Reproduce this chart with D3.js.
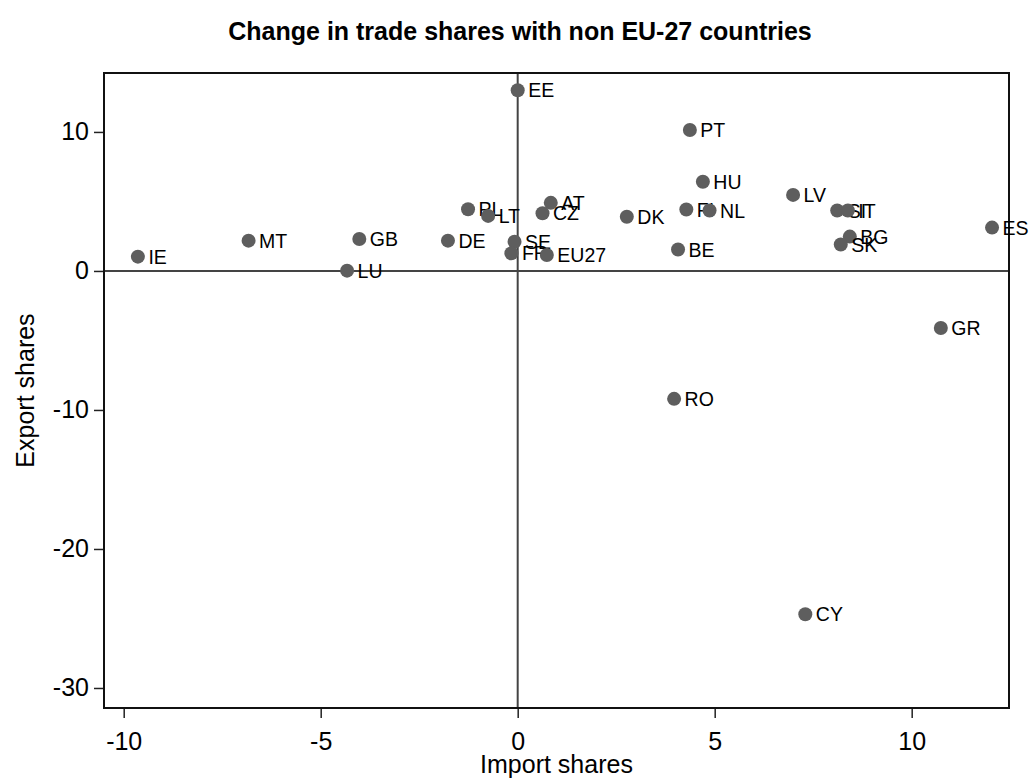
<!DOCTYPE html>
<html lang="en">
<head>
<meta charset="UTF-8">
<title>Change in trade shares</title>
<script src="https://d3js.org/d3.v7.min.js"></script>
<style>
  body { margin: 0; background: #fff; }
  text { font-family: "Liberation Sans", Arial, sans-serif; }
</style>
</head>
<body>
<svg width="1033" height="778"></svg>
<script>
// country codes and values
const countries = ["IE","MT","GB","LU","DE","PL","LT","SE","FR","EE","AT","CZ","EU27","DK",
                   "PT","HU","LV","FI","NL","BE","SI","IT","BG","SK","ES","GR","RO","CY"];
const importShares = [-9.64,-6.83,-4.02,-4.33,-1.77,-1.26,-0.75,-0.08,-0.16,0.0,0.84,0.63,0.74,2.77,
                      4.37,4.70,6.99,4.28,4.87,4.07,8.11,8.38,8.43,8.20,12.04,10.74,3.97,7.30];
const exportShares = [1.03,2.18,2.30,0.02,2.18,4.44,3.96,2.10,1.27,13.0,4.90,4.15,1.15,3.90,
                      10.14,6.42,5.47,4.42,4.35,1.54,4.35,4.35,2.47,1.90,3.12,-4.10,-9.20,-24.70];
const xTicks = [-10,-5,0,5,10];
const yTicks = [10,0,-10,-20,-30];

const svg = d3.select("svg");
const mLeft = 104, mRight = 1009, mTop = 73, mBottom = 708;

const x = d3.scaleLinear().domain([-10.5, 12.47]).range([mLeft, mRight]);
const y = d3.scaleLinear().domain([-31.44, 14.24]).range([mBottom, mTop]);

// title
svg.append("text")
    .attr("x", 520).attr("y", 40)
    .attr("text-anchor", "middle")
    .attr("font-size", "25px").attr("font-weight", "bold")
    .text("Change in trade shares with non EU-27 countries");

// zero reference lines
svg.append("line")
    .attr("x1", x(0)).attr("x2", x(0)).attr("y1", mTop).attr("y2", mBottom)
    .attr("stroke", "#444").attr("stroke-width", 2);
svg.append("line")
    .attr("x1", mLeft).attr("x2", mRight).attr("y1", y(0)).attr("y2", y(0))
    .attr("stroke", "#444").attr("stroke-width", 2);

// axes
const xAxis = svg.append("g")
    .attr("transform", `translate(0,${mBottom})`)
    .call(d3.axisBottom(x).tickValues(xTicks).tickSize(10).tickPadding(14).tickFormat(d3.format("d")));
const yAxis = svg.append("g")
    .attr("transform", `translate(${mLeft},0)`)
    .call(d3.axisLeft(y).tickValues(yTicks).tickSize(10).tickPadding(5).tickFormat(d3.format("d")));
[xAxis, yAxis].forEach(g => {
    g.select(".domain").remove();
    g.selectAll(".tick line").attr("stroke", "#222").attr("stroke-width", 1.5);
    g.selectAll(".tick text").attr("font-size", "25px").attr("fill", "#000")
        .attr("font-family", "Liberation Sans, Arial, sans-serif");
});
xAxis.selectAll(".tick text").text(d => d < 0 ? "-" + Math.abs(d) : d);
yAxis.selectAll(".tick text").text(d => d < 0 ? "-" + Math.abs(d) : d);

// frame
svg.append("rect")
    .attr("x", mLeft).attr("y", mTop)
    .attr("width", mRight - mLeft).attr("height", mBottom - mTop)
    .attr("fill", "none").attr("stroke", "#111").attr("stroke-width", 2);

// axis titles, centred on the plot region
svg.append("text")
    .attr("x", (mLeft + mRight) / 2).attr("y", 773)
    .attr("text-anchor", "middle").attr("font-size", "25px")
    .text("Import shares");
svg.append("text")
    .attr("transform", `translate(34,${(mTop + mBottom) / 2}) rotate(-90)`)
    .attr("text-anchor", "middle").attr("font-size", "25px")
    .text("Export shares");

// points and labels
const pts = svg.append("g");
countries.forEach((c, i) => {
    const g = pts.append("g");
    g.append("circle")
        .attr("cx", x(importShares[i])).attr("cy", y(exportShares[i]))
        .attr("r", 7).attr("fill", "#5e5e5e");
    g.append("text")
        .attr("x", x(importShares[i]) + 10.5).attr("y", y(exportShares[i]))
        .attr("dy", "0.36em").attr("font-size", "19.5px")
        .text(c);
});
</script>
</body>
</html>
